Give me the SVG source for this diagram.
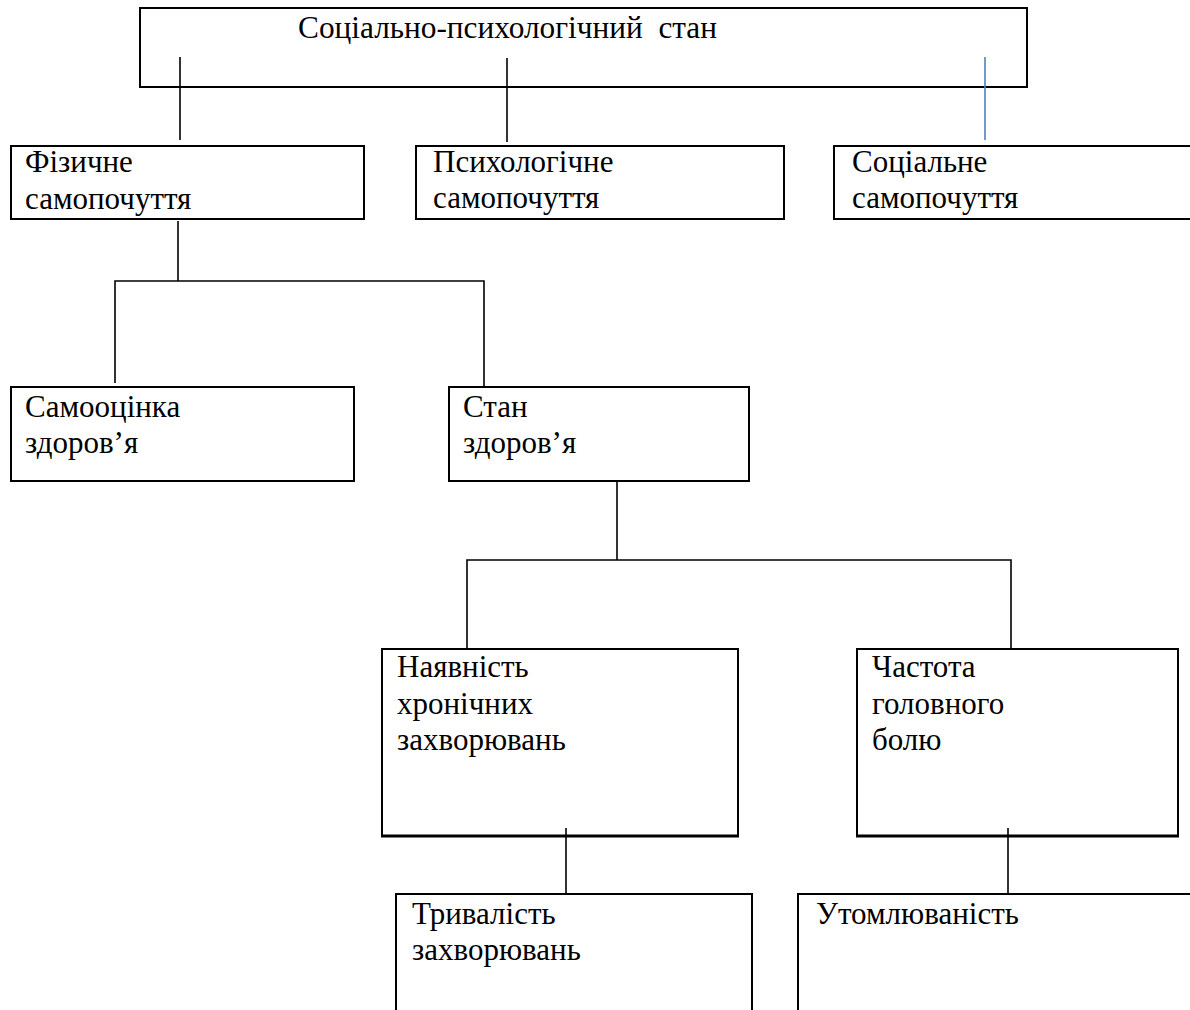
<svg xmlns="http://www.w3.org/2000/svg" width="1190" height="1010" viewBox="0 0 1190 1010">
<style>
.box{fill:#fff;stroke:#000;stroke-width:2}
.t{font-family:"Liberation Serif","Times New Roman",serif;font-size:31px;fill:#000}
.title{font-family:"Liberation Serif","Times New Roman",serif;font-size:32px;fill:#000}
.c{stroke:#000;stroke-width:1.6;fill:none}
</style>
<rect width="1190" height="1010" fill="#fff"/>
<g id="n-root">
<rect class="box" x="140" y="8" width="887" height="79"/>
<text class="title" x="298" y="38" textLength="419" lengthAdjust="spacingAndGlyphs" xml:space="preserve">Соціально-психологічний  стан</text>
</g>
<g id="n-fiz">
<rect class="box" x="11" y="146" width="353" height="73"/>
<text class="t" x="25" y="172">Фізичне</text>
<text class="t" x="25" y="209">самопочуття</text>
</g>
<g id="n-psy">
<rect class="box" x="416" y="146" width="368" height="73"/>
<text class="t" x="433" y="172">Психологічне</text>
<text class="t" x="433" y="208">самопочуття</text>
</g>
<g id="n-soc">
<rect class="box" x="834" y="146" width="366" height="73"/>
<text class="t" x="852" y="172">Соціальне</text>
<text class="t" x="852" y="208">самопочуття</text>
</g>
<g id="n-self">
<rect class="box" x="11" y="387" width="343" height="94"/>
<text class="t" x="25" y="417">Самооцінка</text>
<text class="t" x="25" y="453">здоров’я</text>
</g>
<g id="n-state">
<rect class="box" x="449" y="387" width="300" height="94"/>
<text class="t" x="463" y="417">Стан</text>
<text class="t" x="463" y="453">здоров’я</text>
</g>
<g id="n-chron">
<rect class="box" x="382" y="649" width="356" height="187"/>
<line x1="381" y1="836" x2="739" y2="836" stroke="#000" stroke-width="3"/>
<text class="t" x="397" y="677">Наявність</text>
<text class="t" x="397" y="714">хронічних</text>
<text class="t" x="397" y="750">захворювань</text>
</g>
<g id="n-head">
<rect class="box" x="857" y="649" width="321" height="187"/>
<line x1="856" y1="836" x2="1179" y2="836" stroke="#000" stroke-width="3"/>
<text class="t" x="872" y="677">Частота</text>
<text class="t" x="872" y="714">головного</text>
<text class="t" x="872" y="750">болю</text>
</g>
<g id="n-dur">
<rect class="box" x="396" y="894" width="356" height="130"/>
<text class="t" x="412" y="924">Тривалість</text>
<text class="t" x="412" y="960">захворювань</text>
</g>
<g id="n-fat">
<rect class="box" x="798" y="894" width="400" height="130"/>
<text class="t" x="816" y="924">Утомлюваність</text>
</g>
<g id="connectors">
<line class="c" x1="180" y1="57" x2="180" y2="140"/>
<line class="c" x1="507" y1="58" x2="507" y2="142"/>
<line x1="985" y1="57" x2="985" y2="140" stroke="#4f81bd" stroke-width="1.6"/>
<line class="c" x1="178" y1="221" x2="178" y2="281"/>
<polyline class="c" points="115,383 115,281 484,281 484,387"/>
<line class="c" x1="617" y1="481" x2="617" y2="560"/>
<polyline class="c" points="467,649 467,560 1011,560 1011,649"/>
<line class="c" x1="566" y1="828" x2="566" y2="893"/>
<line class="c" x1="1008" y1="828" x2="1008" y2="893"/>
</g>
</svg>
